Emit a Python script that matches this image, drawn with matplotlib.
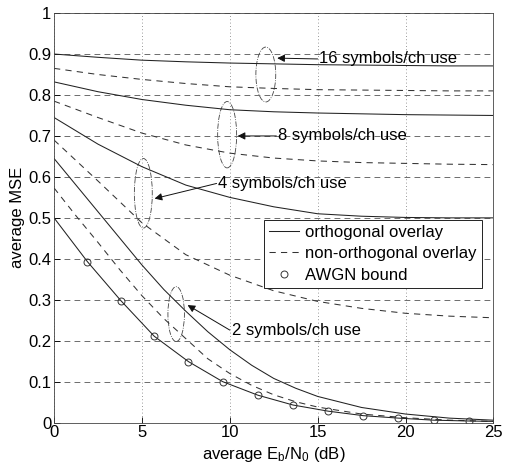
import matplotlib
matplotlib.use("Agg")
import matplotlib.pyplot as plt
from matplotlib.patches import Ellipse
from matplotlib.lines import Line2D

plt.rcParams['font.family'] = ['Liberation Sans', 'DejaVu Sans']
plt.rcParams['mathtext.fontset'] = 'custom'
plt.rcParams['mathtext.rm'] = 'Liberation Sans'
plt.rcParams['mathtext.default'] = 'rm'

# ---- data ----
snr = [0, 2.5, 5, 7.5, 10, 12.5, 15, 17.5, 20, 22.5, 25]
orth16 = [0.900, 0.892, 0.885, 0.881, 0.878, 0.876, 0.874, 0.873, 0.872, 0.871, 0.871]
orth8 = [0.832, 0.808, 0.789, 0.775, 0.764, 0.759, 0.756, 0.754, 0.752, 0.751, 0.750]
orth4 = [0.745, 0.680, 0.625, 0.580, 0.550, 0.527, 0.510, 0.504, 0.501, 0.500, 0.500]
non16 = [0.865, 0.850, 0.838, 0.828, 0.820, 0.816, 0.813, 0.812, 0.811, 0.810, 0.810]
non8 = [0.785, 0.745, 0.707, 0.678, 0.658, 0.646, 0.639, 0.635, 0.633, 0.631, 0.630]
non4 = [0.690, 0.590, 0.488, 0.410, 0.360, 0.322, 0.296, 0.279, 0.267, 0.260, 0.256]

snr2 = [0, 1.25, 2.5, 3.75, 5, 6.25, 7.5, 8.75, 10, 11.25, 12.5, 13.75, 15, 17.5, 20, 22.5, 25]
orth2 = [0.645, 0.580, 0.515, 0.450, 0.385, 0.325, 0.272, 0.222, 0.178, 0.140, 0.108,
         0.084, 0.064, 0.037, 0.021, 0.011, 0.006]
non2 = [0.573, 0.505, 0.440, 0.373, 0.310, 0.254, 0.205, 0.156, 0.120, 0.091, 0.068,
        0.051, 0.038, 0.021, 0.012, 0.006, 0.003]

awgn_x = [0, 1.9, 3.8, 5.7, 7.65, 9.6, 11.6, 13.6, 15.6, 17.6, 19.6, 21.6, 23.6, 25]
awgn_y = [0.500, 0.393, 0.298, 0.211, 0.149, 0.100, 0.067, 0.043, 0.028, 0.017,
          0.011, 0.006, 0.004, 0.003]

xticks = [0, 5, 10, 15, 20, 25]
yticks = [0, 0.1, 0.2, 0.3, 0.4, 0.5, 0.6, 0.7, 0.8, 0.9, 1]
ytick_labels = ['0', '0.1', '0.2', '0.3', '0.4', '0.5', '0.6', '0.7', '0.8', '0.9', '1']

legend_labels = ['orthogonal overlay', 'non-orthogonal overlay', 'AWGN bound']

# annotations: label, text pos, arrow head, ellipse centre, ellipse w, h
annots = [
    ('16 symbols/ch use', (15.1, 0.888), (12.7, 0.890), (12.05, 0.850), 1.13, 0.134),
    ('8 symbols/ch use', (12.75, 0.700), (10.45, 0.700), (9.85, 0.703), 1.08, 0.162),
    ('4 symbols/ch use', (9.35, 0.584), (5.72, 0.547), (5.08, 0.560), 1.02, 0.170),
    ('2 symbols/ch use', (10.1, 0.226), (7.6, 0.287), (6.95, 0.265), 0.94, 0.134),
]

# ---- figure ----
fig = plt.figure(figsize=(5.05, 4.67), dpi=100)
ax = fig.add_axes([0.107, 0.095, 0.870, 0.877])

solid_kw = dict(color='#222222', lw=0.75, ls='-')
dash_kw = dict(color='#333333', lw=0.75, ls=(0, (6, 5)))

for ys in (orth16, orth8, orth4):
    ax.plot(snr, ys, **solid_kw)
ax.plot(snr2, orth2, **solid_kw)
for ys in (non16, non8, non4):
    ax.plot(snr, ys, **dash_kw)
ax.plot(snr2, non2, **dash_kw)

ax.plot(awgn_x, awgn_y, color='#222222', lw=0.75)
ax.plot(awgn_x[1:-1], awgn_y[1:-1], ls='none', marker='o', ms=5,
        mfc='none', mec='#333333', mew=0.7)

for label, tpos, head, ec, ew, eh in annots:
    ax.add_patch(Ellipse(ec, ew, eh, fill=False, ls='-.', lw=0.6, ec='#444444'))
    ax.annotate('', xy=head, xytext=(tpos[0] - 0.1, tpos[1]),
                arrowprops=dict(arrowstyle='-|>', color='#111111', lw=0.7,
                                mutation_scale=11, shrinkA=0, shrinkB=0))
    ax.text(tpos[0], tpos[1], label, fontsize=12, va='center', ha='left')

ax.set_xlim(0, 25)
ax.set_ylim(0, 1)
ax.set_xticks(xticks)
ax.set_xticklabels([str(v) for v in xticks])
ax.set_yticks(yticks)
ax.set_yticklabels(ytick_labels)
ax.tick_params(direction='in', labelsize=12, length=4, width=0.6, pad=2)
ax.grid(True, axis='y', ls=(0, (7, 5)), color='#555555', lw=0.6)
ax.grid(True, axis='x', ls=(0, (1, 3)), color='#777777', lw=0.6)
for s in ax.spines.values():
    s.set_linewidth(0.6)
    s.set_color('#444444')

ax.set_xlabel(r'average E$_\mathrm{b}$/N$_0$ (dB)', fontsize=12, labelpad=3)
ax.set_ylabel('average MSE', fontsize=12, labelpad=2)

handles = [Line2D([], [], **solid_kw),
           Line2D([], [], **dash_kw),
           Line2D([], [], ls='none', marker='o', ms=5, mfc='none', mec='#333333', mew=0.7)]
leg = ax.legend(handles, legend_labels, loc='lower right', bbox_to_anchor=(0.973, 0.329),
                borderaxespad=0, fontsize=12, frameon=True, fancybox=False,
                edgecolor='#222222', framealpha=1, handlelength=1.8, handletextpad=0.35,
                labelspacing=0.4, borderpad=0.3)
leg.get_frame().set_linewidth(0.7)

fig.savefig('out.png', dpi=100)
